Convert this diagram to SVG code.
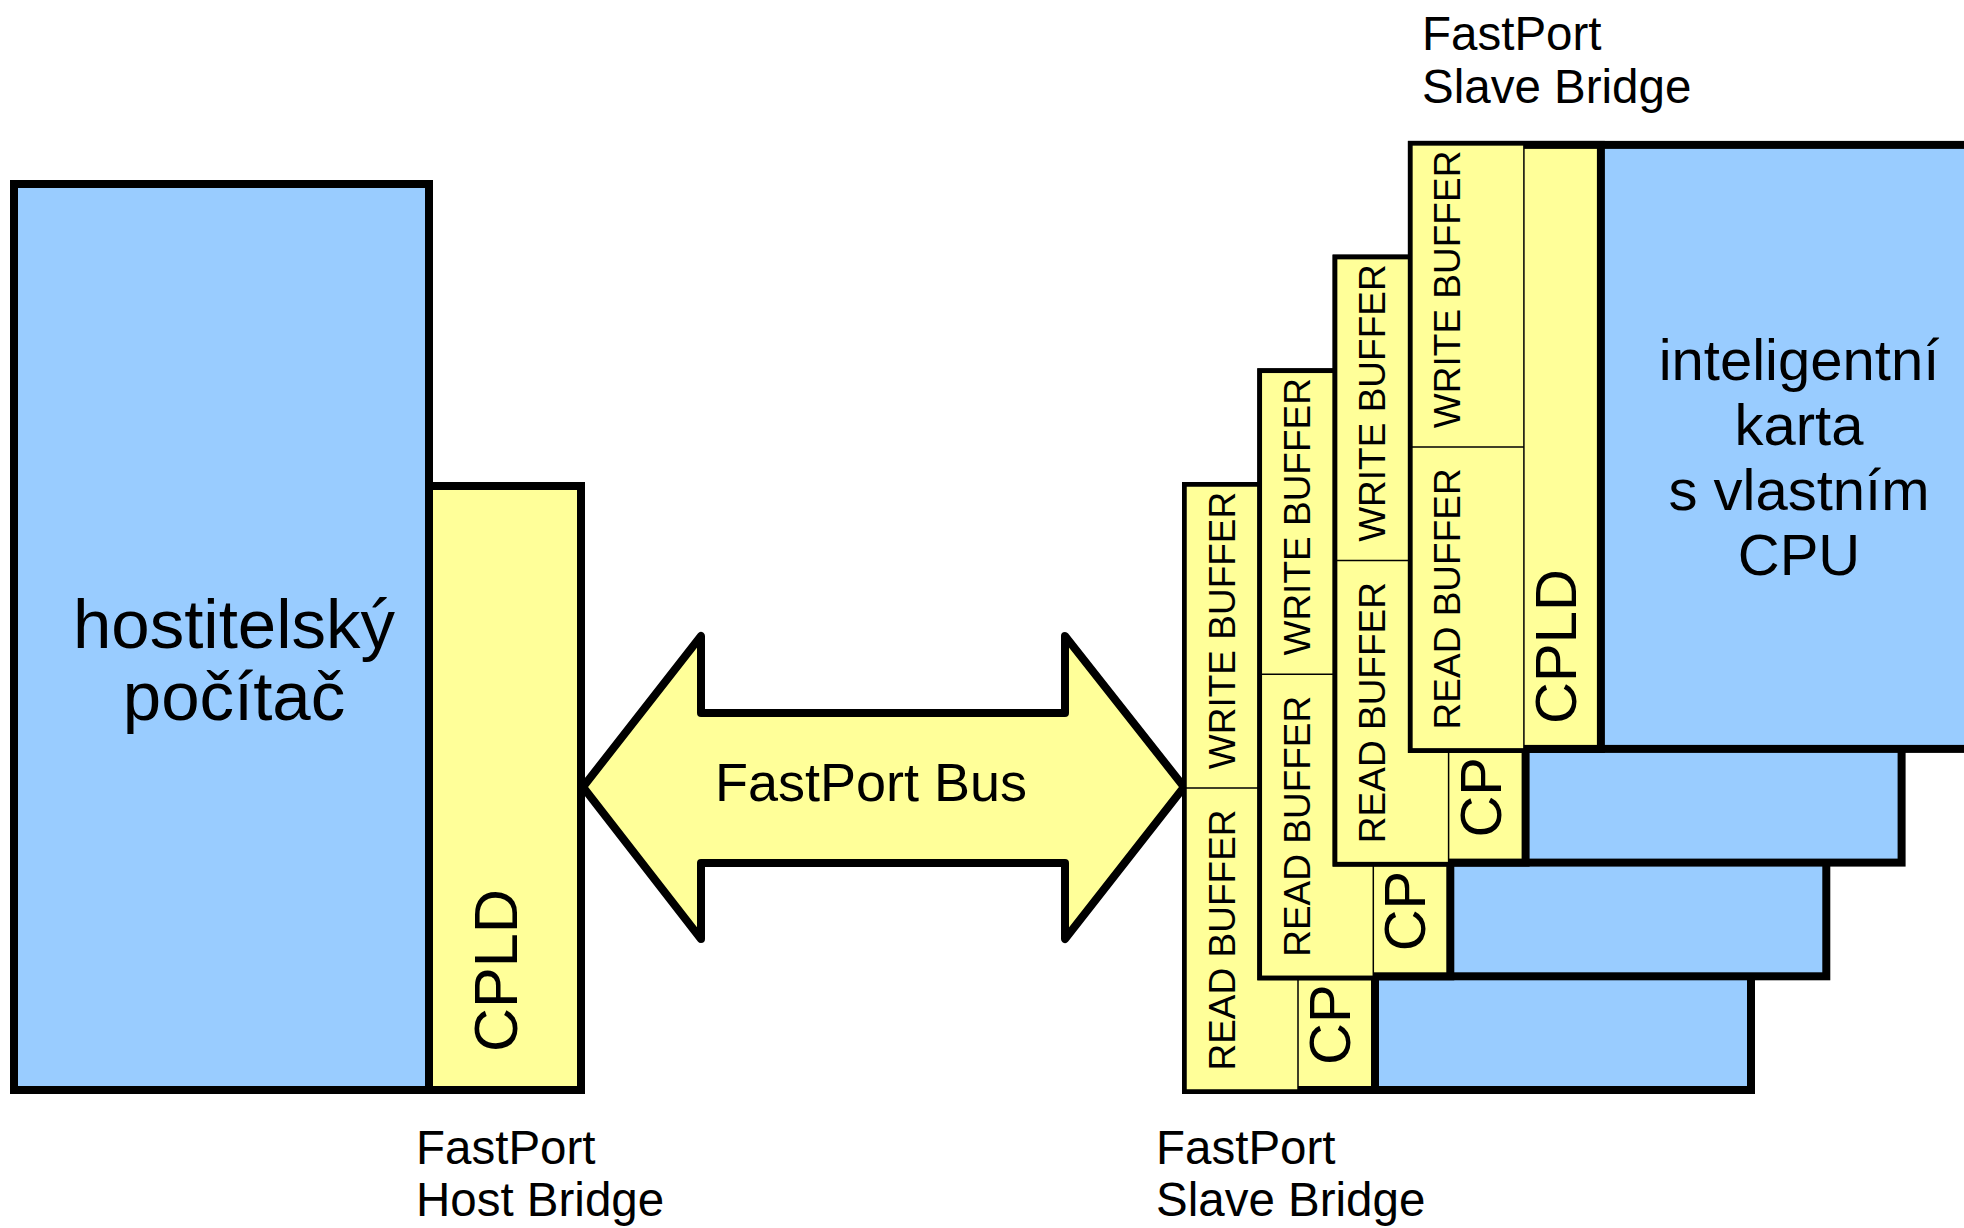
<svg xmlns="http://www.w3.org/2000/svg" width="1964" height="1228" viewBox="0 0 1964 1228">
<style>
.blue{fill:#99ccff;stroke:#000;stroke-width:8}
.yel{fill:#ffff99;stroke:#000;stroke-width:8}
.buf{fill:#ffff99;stroke:#000;stroke-width:1.5}
.thin{stroke:#000;stroke-width:1.5}
text{font-family:"Liberation Sans",Arial,sans-serif;fill:#000}
.lbl{font-size:47.5px}
.bt{font-size:37px;text-anchor:middle}
.cp{font-size:58px}
.big{font-size:58px;text-anchor:middle}
</style>
<rect width="1964" height="1228" fill="#fff"/>

<g id="host">
  <rect class="blue" x="14" y="184" width="415" height="906"/>
  <text x="234" y="648" style="font-size:69px;text-anchor:middle">hostitelský</text>
  <text x="234" y="720" style="font-size:69px;text-anchor:middle">počítač</text>
</g>
<g id="host-cpld">
  <rect class="yel" x="429" y="486" width="152" height="604"/>
  <text transform="translate(517,1052) rotate(-90)" style="font-size:61px">CPLD</text>
</g>

<g id="connectors">
  <path d="M583,787 L701,636 L701,713 L1065,713 L1065,636 L1184,787 L1065,939 L1065,863 L701,863 L701,939 Z" fill="#ffff99" stroke="#000" stroke-width="8" stroke-linejoin="round"/>
  <text x="871" y="801" style="font-size:54px;text-anchor:middle">FastPort Bus</text>
</g>

<g id="card1">
  <rect class="blue" x="1186" y="486" width="565" height="604"/>
  <rect class="yel" x="1186" y="486" width="189" height="604"/>
  <rect class="buf" x="1186" y="486" width="112" height="604"/>
  <line class="thin" x1="1186" y1="788" x2="1298" y2="788"/>
  <text class="bt" transform="translate(1234.5,630.5) rotate(-90)">WRITE BUFFER</text>
  <text class="bt" transform="translate(1234.5,940) rotate(-90)">READ BUFFER</text>
  <text class="cp" transform="translate(1350,1065) rotate(-90)">CPLD</text>
</g>
<g id="card2" transform="translate(75.3,-113.7)">
  <rect class="blue" x="1186" y="486" width="565" height="604"/>
  <rect class="yel" x="1186" y="486" width="189" height="604"/>
  <rect class="buf" x="1186" y="486" width="112" height="604"/>
  <line class="thin" x1="1186" y1="788" x2="1298" y2="788"/>
  <text class="bt" transform="translate(1234.5,630.5) rotate(-90)">WRITE BUFFER</text>
  <text class="bt" transform="translate(1234.5,940) rotate(-90)">READ BUFFER</text>
  <text class="cp" transform="translate(1350,1065) rotate(-90)">CPLD</text>
</g>
<g id="card3" transform="translate(150.6,-227.4)">
  <rect class="blue" x="1186" y="486" width="565" height="604"/>
  <rect class="yel" x="1186" y="486" width="189" height="604"/>
  <rect class="buf" x="1186" y="486" width="112" height="604"/>
  <line class="thin" x1="1186" y1="788" x2="1298" y2="788"/>
  <text class="bt" transform="translate(1234.5,630.5) rotate(-90)">WRITE BUFFER</text>
  <text class="bt" transform="translate(1234.5,940) rotate(-90)">READ BUFFER</text>
  <text class="cp" transform="translate(1350,1065) rotate(-90)">CPLD</text>
</g>
<g id="card4" transform="translate(225.9,-341.1)">
  <rect class="blue" x="1186" y="486" width="565" height="604"/>
  <rect class="yel" x="1186" y="486" width="189" height="604"/>
  <rect class="buf" x="1186" y="486" width="112" height="604"/>
  <line class="thin" x1="1186" y1="788" x2="1298" y2="788"/>
  <text class="bt" transform="translate(1234.5,630.5) rotate(-90)">WRITE BUFFER</text>
  <text class="bt" transform="translate(1234.5,940) rotate(-90)">READ BUFFER</text>
  <text class="cp" transform="translate(1350,1065) rotate(-90)">CPLD</text>
</g>
<g id="card-label">
  <text class="big" x="1799" y="380">inteligentní</text>
  <text class="big" x="1799" y="445">karta</text>
  <text class="big" x="1799" y="510">s vlastním</text>
  <text class="big" x="1799" y="575">CPU</text>
</g>

<g id="labels">
  <text class="lbl" x="1422" y="50">FastPort</text>
  <text class="lbl" x="1422" y="103">Slave Bridge</text>
  <text class="lbl" x="416" y="1164">FastPort</text>
  <text class="lbl" x="416" y="1216">Host Bridge</text>
  <text class="lbl" x="1156" y="1164">FastPort</text>
  <text class="lbl" x="1156" y="1216">Slave Bridge</text>
</g>
</svg>
